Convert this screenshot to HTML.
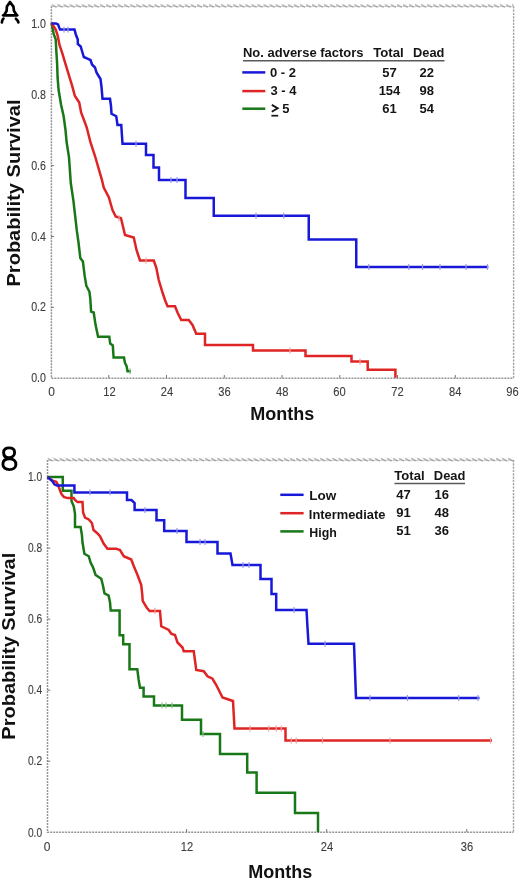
<!DOCTYPE html>
<html><head><meta charset="utf-8"><title>Kaplan-Meier survival curves</title>
<style>
html,body{margin:0;padding:0;background:#fff;}
body{width:520px;height:880px;overflow:hidden;}
svg{display:block;font-family:"Liberation Sans",sans-serif;will-change:transform;filter:blur(0.35px);}
.ax{stroke:#959595;stroke-width:1.5;fill:none;stroke-dasharray:2 1;}
.bx{stroke:#a2a2a2;stroke-width:1.4;fill:none;stroke-dasharray:2.2 1.1;}
.tk{stroke:#777;stroke-width:1;}
.tl{font-size:12px;fill:#3c3c3c;stroke:#3c3c3c;stroke-width:0.1px;}
.km{fill:none;stroke-width:2.5;stroke-linejoin:miter;stroke-linecap:butt;}
.b{stroke:#1818d8;} .r{stroke:#de2424;} .g{stroke:#187818;}
.lg{font-size:13px;font-weight:bold;fill:#151515;}
.ttl{font-size:18px;font-weight:bold;fill:#111;}
</style></head>
<body>
<svg width="520" height="880" viewBox="0 0 520 880">
<defs>
  <pattern id="tbA" x="51.4" y="3.8" width="6.06" height="4.2" patternUnits="userSpaceOnUse"><path d="M0.3,0.9 L4.6,3.3" stroke="#9c9c9c" stroke-width="1.3" stroke-linecap="round"/></pattern>
  <pattern id="tbB" x="47.5" y="457.6" width="6.06" height="4.2" patternUnits="userSpaceOnUse"><path d="M0.3,0.9 L4.6,3.3" stroke="#9c9c9c" stroke-width="1.3" stroke-linecap="round"/></pattern>
</defs>
<rect x="0" y="0" width="520" height="880" fill="#fff"/>

<!-- ===== Panel A ===== -->
<g id="A">
  <!-- letter A -->
  <g stroke="#000" stroke-width="2.7" fill="none" stroke-linecap="round" stroke-linejoin="round">
    <path d="M4.6,14.2 L6.6,11 L6.9,6.6 L10,2 L13.4,6.6 L14,11 L16.2,14.2"/>
    <path d="M3.2,15.3 H17.2"/>
    <path d="M3.4,18.6 Q1.9,20.2 1.9,22.4"/>
    <path d="M15.9,18.8 Q17.9,20.4 18.4,22.4"/>
  </g>
  <!-- frame -->
  <path d="M51.4,6.6 H513.6" stroke="#cfcfcf" stroke-width="1"/>
  <rect x="51.4" y="3.8" width="462.2" height="4.2" fill="url(#tbA)"/>
  <path class="bx" d="M513.6,6.3 V378.3"/>
  <path class="ax" d="M51.4,6.3 V378.3 H513.6"/>
  <!-- y ticks -->
  <path class="tk" d="M51,23.7h3 M51,94.6h3 M51,165.6h3 M51,236.5h3 M51,307.4h3"/>
  <!-- x ticks -->
  <path class="tk" d="M108.8,378v-3 M166.5,378v-3 M224.3,378v-3 M282,378v-3 M339.8,378v-3 M397.5,378v-3 M455.3,378v-3"/>
  <g class="tl" text-anchor="end">
    <text x="46" y="27.8" textLength="14.8" lengthAdjust="spacingAndGlyphs">1.0</text>
    <text x="46" y="98.7" textLength="14.8" lengthAdjust="spacingAndGlyphs">0.8</text>
    <text x="46" y="169.6" textLength="14.8" lengthAdjust="spacingAndGlyphs">0.6</text>
    <text x="46" y="240.5" textLength="14.8" lengthAdjust="spacingAndGlyphs">0.4</text>
    <text x="46" y="311.4" textLength="14.8" lengthAdjust="spacingAndGlyphs">0.2</text>
    <text x="46" y="382.3" textLength="14.8" lengthAdjust="spacingAndGlyphs">0.0</text>
  </g>
  <g class="tl" text-anchor="middle">
    <text x="51.5" y="396">0</text>
    <text x="109.5" y="396" textLength="12.4" lengthAdjust="spacingAndGlyphs">12</text>
    <text x="167" y="396" textLength="12.4" lengthAdjust="spacingAndGlyphs">24</text>
    <text x="224.5" y="396" textLength="12.4" lengthAdjust="spacingAndGlyphs">36</text>
    <text x="282.3" y="396" textLength="12.4" lengthAdjust="spacingAndGlyphs">48</text>
    <text x="339.5" y="396" textLength="12.4" lengthAdjust="spacingAndGlyphs">60</text>
    <text x="397.5" y="396" textLength="12.4" lengthAdjust="spacingAndGlyphs">72</text>
    <text x="455.3" y="396" textLength="12.4" lengthAdjust="spacingAndGlyphs">84</text>
    <text x="512.5" y="396" textLength="12.4" lengthAdjust="spacingAndGlyphs">96</text>
  </g>
  <text class="ttl" x="282.3" y="420" text-anchor="middle">Months</text>
  <text class="ttl" transform="translate(19.6,193) rotate(-90)" text-anchor="middle" textLength="187" lengthAdjust="spacingAndGlyphs">Probability Survival</text>

  <!-- legend -->
  <g class="lg">
    <text x="243" y="57.4" textLength="120.5" lengthAdjust="spacingAndGlyphs">No. adverse factors</text>
    <text x="373.2" y="57.4" textLength="30.6" lengthAdjust="spacingAndGlyphs">Total</text>
    <text x="413" y="57.4" textLength="31.4" lengthAdjust="spacingAndGlyphs">Dead</text>
    <text x="270" y="76.6">0 - 2</text>
    <text x="270.5" y="95.2">3 - 4</text>
    <text x="282.3" y="113.2">5</text>
    <text x="389.5" y="76.6" text-anchor="middle">57</text>
    <text x="389.5" y="94.5" text-anchor="middle">154</text>
    <text x="389.5" y="112.7" text-anchor="middle">61</text>
    <text x="426.8" y="76.6" text-anchor="middle">22</text>
    <text x="426.8" y="94.5" text-anchor="middle">98</text>
    <text x="426.8" y="112.7" text-anchor="middle">54</text>
  </g>
  <path d="M271.8,104.9 L277.6,108.3 L271.8,111.7" stroke="#151515" stroke-width="1.9" fill="none"/>
  <path d="M271.4,115.7 H278.2" stroke="#151515" stroke-width="1.7"/>
  <path d="M243,60.7 H444.5" stroke="#5a5a5a" stroke-width="1.5"/>
  <path class="km b" d="M242.3,72.4 H265.3"/>
  <path class="km r" d="M242.3,91.1 H265.3"/>
  <path class="km g" d="M242.3,108.7 H265.3"/>

  <!-- curves -->
  <path class="km g" d="M51.5,23 L52.8,29.6 L53.8,34.4 L55.7,39.2 L56.2,48.8 L57.1,63.3 L57.6,77.7 L58.6,90 L61.1,105 L63.6,116 L65.5,130 L66.6,142 L69,157.3 L70.8,183.3 L73.4,200.6 L76.8,230.4 L78.5,242.5 L80.3,258 L82.9,261.5 L84.6,275.4 L86.3,285.7 L89.4,291.7 L90.3,298.7 L91.1,311.6 L93.7,312.5 L95.5,324.6 L98.1,336.7 H109.3 L110.2,343.6 L112.8,345.4 L113.6,357.5 H124 L124.9,362.7 L126.6,366.1 L127.5,371.3 H131"/>
  <path class="km r" d="M51.5,23 L55.7,29.6 L57.6,35.4 L59.5,45 L62.4,53.7 L65.3,63.3 L68.2,72.9 L72,85.4 L74.9,96 L79.25,102.5 L81.1,112.5 L84.9,122.5 L86.75,127.5 L90.5,142.5 L95,156 L101.9,179.8 L103.75,187.5 L108.8,197.1 L112.5,210 L115.7,216.5 L121,218.3 L125,235 L133.75,237.5 L136.5,250 L140,260.5 H153.75 L156.25,267.5 L158.75,280 L162.5,292.5 L165,300 L167.5,306.25 H175 L177.5,312.5 L181.25,320 H188.75 L192.5,325 L196.25,333.75 H205 V345 H253 V350.5 H305.5 V356 H351.5 V361.5 H367.7 V369.7 H395.4 V377.7"/>
  <path class="km b" d="M51.5,23.5 H56 L58,24.5 L60,29.6 H74.5 L76,35 L77.8,39.5 V44 L80.7,46.5 L82,51 L83.8,57 L88,58.8 L90.5,60 L92,64.5 L95,67.5 L96.5,72.5 L98,75 L100.5,79 L101.5,87 L102.5,98.75 H110 L111,106 L111.5,113.75 L116.25,116.25 L117.5,125 H121.25 L122.5,143.75 H146 V155 H153.5 V167.5 H159 V180 H185.5 V198 H213.75 V215.75 H308.75 V239.5 H356.25 V267 H488.3"/>
</g>

<!-- ===== Panel B ===== -->
<g id="B">
  <g stroke="#000" stroke-width="2.9" fill="none">
    <path d="M3.6,452.6 C3.4,449.2 6,447.9 9,447.9 C12.4,447.9 14.6,449.6 14.6,452.4 C14.6,455.6 12.2,457.6 9,457.7 C5.8,457.8 3.7,455.8 3.6,452.6 Z"/>
    <path d="M2.9,464.2 C2.9,460.6 5.6,458.8 9.4,458.8 C13.4,458.8 15.9,461.2 15.9,464.4 C15.9,467.6 13.3,469.6 9.4,469.6 C5.6,469.6 2.9,467.6 2.9,464.2 Z"/>
  </g>
  <path d="M47.5,460.4 H513.5" stroke="#cfcfcf" stroke-width="1"/>
  <rect x="47.5" y="457.6" width="466" height="4.2" fill="url(#tbB)"/>
  <path class="bx" d="M513.5,460 V832.3"/>
  <path class="ax" d="M47.5,460 V832.3 H513.5"/>
  <path class="tk" d="M47.3,477h3 M47.3,548.1h3 M47.3,619.1h3 M47.3,690.2h3 M47.3,761.2h3"/>
  <path class="tk" d="M186.6,832v-3 M326.7,832v-3 M466.8,832v-3"/>
  <g class="tl" text-anchor="end">
    <text x="42.1" y="481.2" textLength="14.2" lengthAdjust="spacingAndGlyphs">1.0</text>
    <text x="42.1" y="552.3" textLength="14.2" lengthAdjust="spacingAndGlyphs">0.8</text>
    <text x="42.1" y="623.3" textLength="14.2" lengthAdjust="spacingAndGlyphs">0.6</text>
    <text x="42.1" y="694.4" textLength="14.2" lengthAdjust="spacingAndGlyphs">0.4</text>
    <text x="42.1" y="765.4" textLength="14.2" lengthAdjust="spacingAndGlyphs">0.2</text>
    <text x="42.1" y="836.8" textLength="14.2" lengthAdjust="spacingAndGlyphs">0.0</text>
  </g>
  <g class="tl" text-anchor="middle">
    <text x="47" y="850.5">0</text>
    <text x="187" y="850.5" textLength="12.4" lengthAdjust="spacingAndGlyphs">12</text>
    <text x="327" y="850.5" textLength="12.4" lengthAdjust="spacingAndGlyphs">24</text>
    <text x="467" y="850.5" textLength="12.4" lengthAdjust="spacingAndGlyphs">36</text>
  </g>
  <text class="ttl" x="280.2" y="877.7" text-anchor="middle">Months</text>
  <text class="ttl" transform="translate(15.2,646.2) rotate(-90)" text-anchor="middle" textLength="187" lengthAdjust="spacingAndGlyphs">Probability Survival</text>

  <g class="lg">
    <text x="394.3" y="480.3" textLength="30.3" lengthAdjust="spacingAndGlyphs">Total</text>
    <text x="433.8" y="480.3" textLength="31.6" lengthAdjust="spacingAndGlyphs">Dead</text>
    <text x="309.3" y="500.1" textLength="27" lengthAdjust="spacingAndGlyphs">Low</text>
    <text x="308.8" y="518.6" textLength="76.6" lengthAdjust="spacingAndGlyphs">Intermediate</text>
    <text x="309.3" y="537" textLength="27.5" lengthAdjust="spacingAndGlyphs">High</text>
    <text x="403.6" y="499.3" text-anchor="middle">47</text>
    <text x="403.6" y="517" text-anchor="middle">91</text>
    <text x="403.6" y="535.4" text-anchor="middle">51</text>
    <text x="441.7" y="499.3" text-anchor="middle">16</text>
    <text x="441.7" y="517" text-anchor="middle">48</text>
    <text x="441.7" y="535.4" text-anchor="middle">36</text>
  </g>
  <path d="M394.5,483.5 H465" stroke="#5a5a5a" stroke-width="1.5"/>
  <path class="km b" d="M280.3,494.8 H303.6"/>
  <path class="km r" d="M280.3,513.2 H303.6"/>
  <path class="km g" d="M280.3,531.4 H303.6"/>

  <path class="km g" d="M47.5,477 H62.8 V490.8 H71.5 V501 L73.75,506.25 L75,513.75 V527 H80.6 L81.9,535 L82.5,542.5 L84.4,553.75 L88.75,556.25 L90.6,562.5 L93.1,567.5 L95.6,575 L101.25,578.75 L103.1,586.25 L104.5,593.4 L108.6,595.5 L110,602.3 L110.7,610.5 H119.6 V635.3 H123.2 V644.2 H129.5 V669.3 H137.3 L138.7,680 L140,687.8 H143.6 V696.4 H154 V705.4 H182 V719.8 H201 V734 H220 V754 H247.2 V772.5 H256.6 V792.7 H295 V813 H318 V832.2"/>
  <path class="km r" d="M47.5,477 L52.5,480.6 L56.25,481.9 L58.1,485 L59.4,488.75 L61.25,493.75 L63.75,496.9 L67.5,498.1 H73.75 L75,500 L77.5,501.9 H82.5 L83.1,512.5 L85,517.5 L88.75,519.4 L91.9,523 L93.5,530 L97,533 L100,536.25 L103.75,543.75 L107.5,548.75 H116.25 L120,550 L123.75,556.25 L131.25,559.5 L133.75,566 L137.5,575 L141.25,585 L142.3,595 L142.7,600.9 L146.8,607.7 L149.6,611 H160 L161.25,626.25 L168.75,630 L171.25,633.75 L175,635 L177.5,642.5 L182.5,647.5 L183.75,651.25 H193.75 L196.25,670 L203.75,671.25 L207.5,676.25 L212.5,678.75 L216.25,685 L218.75,690 L222.5,697.5 L227,699 L233,701 L234.5,728.5 H285.5 V740.5 H492"/>
  <path class="km b" d="M47.5,477 L52.5,481.25 L54.4,484.4 L56.9,485.6 H74.4 V492.4 H127 V500 H131.5 L134.6,503 V510 H156.5 V520.3 H164.2 V531 H186.5 V542 H217.5 V553.5 H230.5 L232.5,565 H260.5 V579 H271.5 V594 H276.2 V610 H306.5 L307.5,627.5 L308.5,643.75 H354 L355,671 L356,698 H479.5"/>
</g>
<g id="censor">
<rect x="63.40" y="26.60" width="1.2" height="6" fill="#9a9af2"/>
<rect x="67.40" y="26.60" width="1.2" height="6" fill="#9a9af2"/>
<rect x="135.40" y="140.75" width="1.2" height="6" fill="#9a9af2"/>
<rect x="170.40" y="177.00" width="1.2" height="6" fill="#9a9af2"/>
<rect x="176.40" y="177.00" width="1.2" height="6" fill="#9a9af2"/>
<rect x="255.40" y="212.75" width="1.2" height="6" fill="#9a9af2"/>
<rect x="283.15" y="212.75" width="1.2" height="6" fill="#9a9af2"/>
<rect x="368.15" y="264.00" width="1.2" height="6" fill="#9a9af2"/>
<rect x="408.15" y="264.00" width="1.2" height="6" fill="#9a9af2"/>
<rect x="421.90" y="264.00" width="1.2" height="6" fill="#9a9af2"/>
<rect x="439.40" y="264.00" width="1.2" height="6" fill="#9a9af2"/>
<rect x="465.40" y="264.00" width="1.2" height="6" fill="#9a9af2"/>
<rect x="486.90" y="264.00" width="1.2" height="6" fill="#9a9af2"/>
<rect x="89.40" y="489.40" width="1.2" height="6" fill="#9a9af2"/>
<rect x="109.40" y="489.40" width="1.2" height="6" fill="#9a9af2"/>
<rect x="144.40" y="507.00" width="1.2" height="6" fill="#9a9af2"/>
<rect x="176.40" y="528.00" width="1.2" height="6" fill="#9a9af2"/>
<rect x="199.40" y="539.00" width="1.2" height="6" fill="#9a9af2"/>
<rect x="204.40" y="539.00" width="1.2" height="6" fill="#9a9af2"/>
<rect x="242.40" y="562.00" width="1.2" height="6" fill="#9a9af2"/>
<rect x="248.40" y="562.00" width="1.2" height="6" fill="#9a9af2"/>
<rect x="293.40" y="607.00" width="1.2" height="6" fill="#9a9af2"/>
<rect x="324.40" y="640.75" width="1.2" height="6" fill="#9a9af2"/>
<rect x="369.40" y="695.00" width="1.2" height="6" fill="#9a9af2"/>
<rect x="406.90" y="695.00" width="1.2" height="6" fill="#9a9af2"/>
<rect x="458.15" y="695.00" width="1.2" height="6" fill="#9a9af2"/>
<rect x="477.40" y="695.00" width="1.2" height="6" fill="#9a9af2"/>
<rect x="118.40" y="215.30" width="1.2" height="6" fill="#f2a0a0"/>
<rect x="145.40" y="257.50" width="1.2" height="6" fill="#f2a0a0"/>
<rect x="359.40" y="358.50" width="1.2" height="6" fill="#f2a0a0"/>
<rect x="289.40" y="347.50" width="1.2" height="6" fill="#f2a0a0"/>
<rect x="249.40" y="725.50" width="1.2" height="6" fill="#f2a0a0"/>
<rect x="268.15" y="725.50" width="1.2" height="6" fill="#f2a0a0"/>
<rect x="275.65" y="725.50" width="1.2" height="6" fill="#f2a0a0"/>
<rect x="280.65" y="725.50" width="1.2" height="6" fill="#f2a0a0"/>
<rect x="290.65" y="737.50" width="1.2" height="6" fill="#f2a0a0"/>
<rect x="295.65" y="737.50" width="1.2" height="6" fill="#f2a0a0"/>
<rect x="321.90" y="737.50" width="1.2" height="6" fill="#f2a0a0"/>
<rect x="389.40" y="737.50" width="1.2" height="6" fill="#f2a0a0"/>
<rect x="489.90" y="737.50" width="1.2" height="6" fill="#f2a0a0"/>
<rect x="154.40" y="608.00" width="1.2" height="6" fill="#f2a0a0"/>
<rect x="129.40" y="368.30" width="1.2" height="6" fill="#8cc28c"/>
<rect x="161.40" y="702.40" width="1.2" height="6" fill="#8cc28c"/>
<rect x="165.40" y="702.40" width="1.2" height="6" fill="#8cc28c"/>
<rect x="171.40" y="702.40" width="1.2" height="6" fill="#8cc28c"/>
<rect x="202.40" y="731.00" width="1.2" height="6" fill="#8cc28c"/>
</g>
</svg>
</body></html>
